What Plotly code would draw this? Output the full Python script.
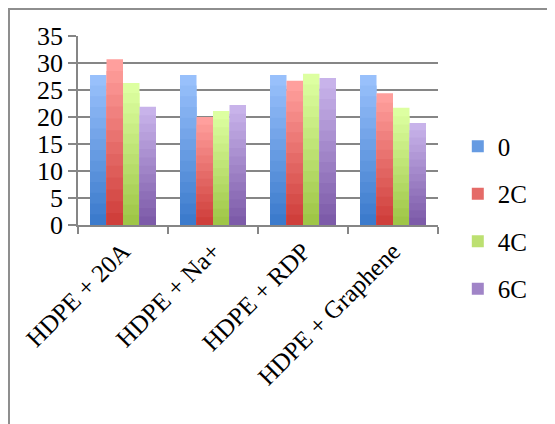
import plotly.graph_objects as go

categories = ["HDPE + 20A", "HDPE + Na+", "HDPE + RDP", "HDPE + Graphene"]
series_names = ["0", "2C", "4C", "6C"]
values_0 = [27.8, 27.8, 27.8, 27.8]
values_2c = [30.7, 20.0, 26.7, 24.4]
values_4c = [26.3, 21.1, 28.0, 21.7]
values_6c = [21.9, 22.2, 27.2, 18.9]
y_ticks = [0, 5, 10, 15, 20, 25, 30, 35]

# top (light) and bottom (dark) colours of each gradient
colors = [
    ("#98c0fb", "#3c7bcc"),
    ("#ff9f9d", "#cf3f3b"),
    ("#ddffa1", "#9fc647"),
    ("#c8b3ea", "#7d5ba9"),
]

FONT = "Liberation Serif, Times New Roman, serif"
LAYERS = 14


def mix(c1, c2, t):
    a = [int(c1[i:i + 2], 16) for i in (1, 3, 5)]
    b = [int(c2[i:i + 2], 16) for i in (1, 3, 5)]
    return "#" + "".join(f"{round(x + (y - x) * t):02x}" for x, y in zip(a, b))


fig = go.Figure()

all_values = [values_0, values_2c, values_4c, values_6c]
for k, (name, vals) in enumerate(zip(series_names, all_values)):
    top, bottom = colors[k]
    # fake a vertical gradient by overlaying shorter, darker bars
    for i in range(LAYERS):
        frac = 1 - i / LAYERS
        fig.add_trace(go.Bar(
            x=categories,
            y=[v * frac for v in vals],
            name=name,
            offsetgroup=name,
            legendgroup=name,
            showlegend=(i == LAYERS // 2),
            marker=dict(color=mix(top, bottom, i / (LAYERS - 1)), line=dict(width=0)),
            hoverinfo="skip" if i else None,
        ))

# outer chart border (page body adds ~8px offset, so it sits at the div edge)
fig.add_shape(
    type="rect", xref="paper", yref="paper",
    x0=-0.1917, x1=1.6, y0=-1.5, y1=1.1429,
    line=dict(color="#8e8e8e", width=2), layer="below",
)

fig.update_layout(
    width=547, height=416,
    paper_bgcolor="white", plot_bgcolor="white",
    barmode="group", bargap=0.267, bargroupgap=0,
    margin=dict(l=70, r=117, t=28, b=199, autoexpand=False),
    font=dict(family=FONT, size=24, color="black"),
    showlegend=True,
    legend=dict(
        x=1.055, y=0.04, xanchor="left", yanchor="middle",
        font=dict(family=FONT, size=25, color="black"),
        tracegroupgap=12, itemwidth=30,
    ),
    xaxis=dict(
        type="category", tickangle=-45, tickson="boundaries",
        ticks="outside", ticklen=7, tickcolor="#868686", tickwidth=1.5,
        showline=True, linecolor="#868686", linewidth=1.5,
        showgrid=False, tickfont=dict(family=FONT, size=25),
        automargin=False,
    ),
    yaxis=dict(
        range=[0, 35], tickvals=y_ticks, ticks="outside", ticklen=8,
        tickcolor="#868686", tickwidth=1.5,
        showline=True, linecolor="#868686", linewidth=1.5,
        showgrid=True, gridcolor="#868686", gridwidth=1.5,
        zeroline=False, tickfont=dict(family=FONT, size=26),
        automargin=False,
    ),
)

fig.write_html("out.html")
